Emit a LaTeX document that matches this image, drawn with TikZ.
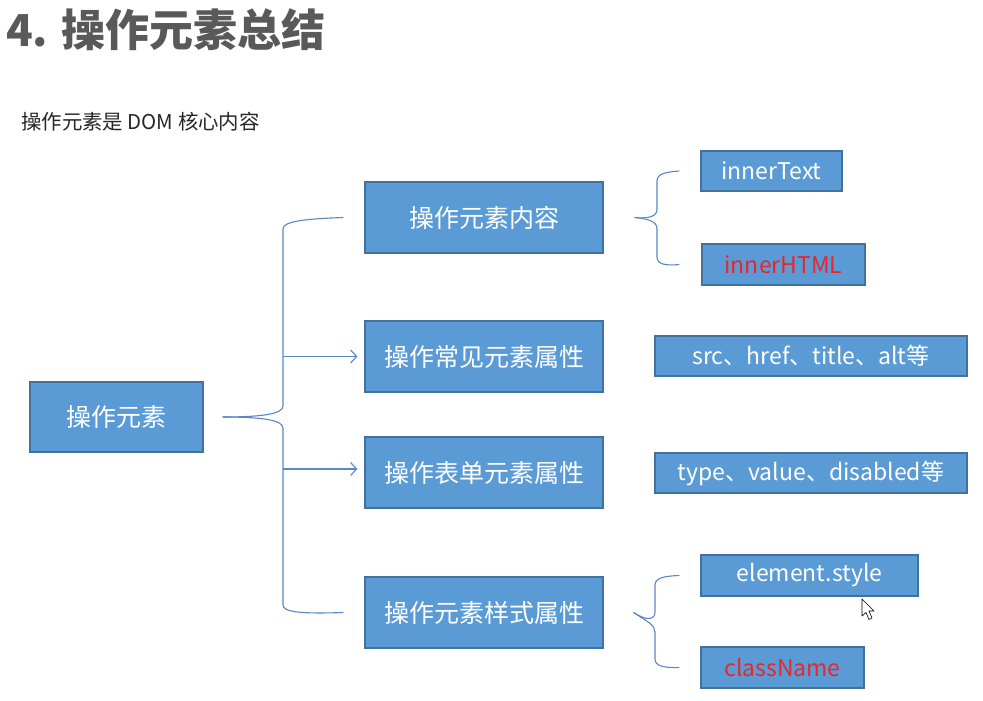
\documentclass[tikz,border=0pt]{standalone}
\usepackage{fontspec}
\setmainfont{Noto Sans CJK SC}
\usetikzlibrary{arrows.meta}

\definecolor{boxfill}{HTML}{5B9BD5}
\definecolor{boxline}{HTML}{41719C}
\definecolor{linkcol}{HTML}{5A87C6}
\definecolor{titlecol}{HTML}{595959}
\definecolor{redtext}{HTML}{E8262B}

\begin{document}
\begin{tikzpicture}[x=1pt,y=-1pt,
    box/.style={draw=boxline, fill=boxfill, line width=1.3pt, text=white, inner sep=0pt},
    cnbox/.style={box, minimum width=238, minimum height=71, font=\fontsize{25}{30}\selectfont},
    enbox/.style={box, minimum height=41, font=\fontsize{23}{27}\selectfont},
    link/.style={draw=linkcol, line width=1.1pt},
    tip/.style={-{Straight Barb[length=6pt,width=13pt]}}]
    \useasboundingbox[fill=white] (0,0) rectangle (983,701);

    % title
    \node[anchor=base west, inner sep=0pt, text=titlecol, font=\fontsize{44}{50}\selectfont\bfseries] (title) at (6,47) {4. 操作元素总结};
    \node[anchor=base west, inner sep=0pt, text=black!85, font=\fontsize{20.4}{24}\selectfont] (sub) at (21,129) {操作元素是 DOM 核心内容};

    % boxes
    \node[cnbox, minimum width=173, minimum height=70] (root) at (116.5,417) {操作元素};
    \node[cnbox] (c1) at (484,217.5) {操作元素内容};
    \node[cnbox] (c2) at (484,356.5) {操作常见元素属性};
    \node[cnbox] (c3) at (484,472.5) {操作表单元素属性};
    \node[cnbox] (c4) at (484,612.5) {操作元素样式属性};

    \node[enbox, minimum width=141, minimum height=40] (text) at (771.5,171) {innerText};
    \node[enbox, minimum width=163, text=redtext] (html) at (783.5,264.5) {innerHTML};
    \node[enbox, minimum width=312, minimum height=40] (attr) at (811,356) {src、href、title、alt等};
    \node[enbox, minimum width=312, minimum height=40] (form) at (811,473) {type、value、disabled等};
    \node[enbox, minimum width=217] (style) at (809.5,575.5) {element.style};
    \node[enbox, minimum width=163, text=redtext] (class) at (782.5,667.5) {className};

    % big brace
    \coordinate (bt) at ([xshift=19]root.east);
    \draw[link] (bt) .. controls (262,417) and (283,414) .. (283,406) -- (283,229)
        .. controls (283,222) and (300,219) .. ([xshift=-21]c1.west);
    \draw[link] (bt) .. controls (262,417) and (283,420) .. (283,428) -- (283,605)
        .. controls (283,612) and (300,614) .. ([xshift=-21]c4.west);
    \draw[link,tip] (283,356.5) -- ([xshift=-7]c2.west);
    \draw[link,tip] (283,469) -- ([xshift=-7]c3.west |- 283,469);

    % small braces
    \coordinate (t1) at ([xshift=31]c1.east);
    \draw[link] (t1) .. controls (650,219) and (657,216) .. (657,209) -- (657,181)
        .. controls (657,174) and (665,172) .. ([xshift=-21]text.west);
    \draw[link] (t1) .. controls (650,219) and (657,222) .. (657,229) -- (657,257)
        .. controls (657,264) and (665,266) .. ([xshift=-22]html.west);
    \coordinate (t4) at ([xshift=30]c4.east);
    \draw[link] (t4) .. controls (648,622) and (655,619) .. (655,612) -- (655,585)
        .. controls (655,578) and (664,576) .. ([xshift=-21]style.west);
    \draw[link] (t4) .. controls (648,622) and (655,625) .. (655,632) -- (655,659)
        .. controls (655,666) and (664,668) .. ([xshift=-21]class.west);

    % mouse pointer
    \draw[fill=white, line width=0.6pt, line join=round] (862,599) -- (862,616) -- (866,612.5)
        -- (869,619.5) -- (872,618) -- (869,611) -- (874,611) -- cycle;
\end{tikzpicture}
\end{document}
